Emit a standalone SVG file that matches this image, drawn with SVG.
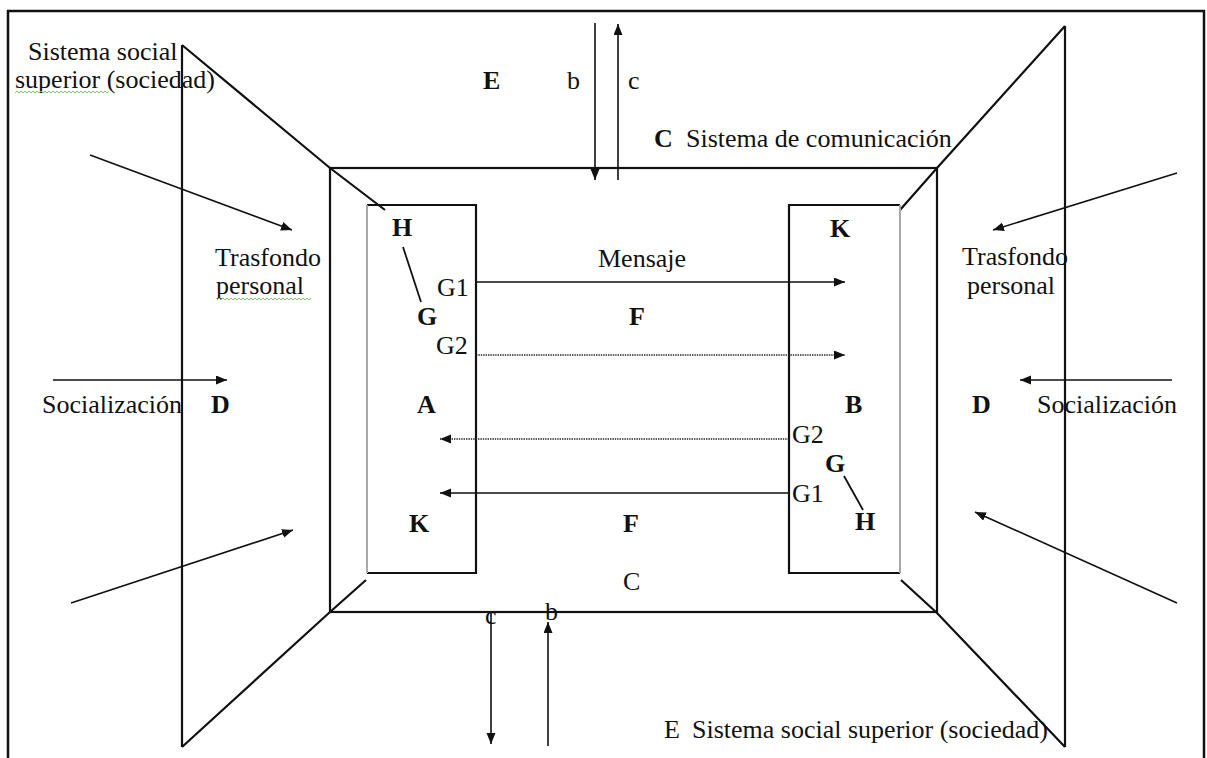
<svg xmlns="http://www.w3.org/2000/svg" width="1207" height="758" viewBox="0 0 1207 758">
  <style>
    .frame { fill: none; stroke: #111; stroke-width: 2.5; }
    .edge { fill: none; stroke: #111; stroke-width: 2.2; stroke-linejoin: miter; }
    .soft { fill: none; stroke: #a8a8a8; stroke-width: 2; }
    .arrow { fill: none; stroke: #111; stroke-width: 1.6; marker-end: url(#head); }
    .dotted { fill: none; stroke: #222; stroke-width: 1.6; stroke-dasharray: 1.4 1; marker-end: url(#head); }
    .tick { fill: none; stroke: #111; stroke-width: 1.8; }
    .squiggle { fill: none; stroke: #7cc46a; stroke-width: 1; }
    text { font-family: "Liberation Serif", "Times New Roman", serif; font-size: 26px; fill: #111; }
    .b { font-weight: bold; }
  </style>
  <defs>
    <marker id="head" markerUnits="userSpaceOnUse" markerWidth="12" markerHeight="10" refX="11" refY="4.5" orient="auto">
      <path d="M0,0 L11,4.5 L0,9 z" fill="#111"/>
    </marker>
  </defs>

  <rect width="1207" height="758" fill="#ffffff"/>

  <!-- superior social system: outer frame -->
  <g id="sociedad">
    <path class="frame" d="M8,762 L8,11 L1204,11 L1204,762"/>
    <text x="28" y="60">Sistema social</text>
    <text x="15" y="88">superior (sociedad)</text>
    <path class="squiggle" d="M15,93 l2,-2 l2,2 l2,-2 l2,2 l2,-2 l2,2 l2,-2 l2,2 l2,-2 l2,2 l2,-2 l2,2 l2,-2 l2,2 l2,-2 l2,2 l2,-2 l2,2 l2,-2 l2,2 l2,-2 l2,2 l2,-2 l2,2 l2,-2 l2,2 l2,-2 l2,2 l2,-2 l2,2 l2,-2 l2,2 l2,-2 l2,2 l2,-2 l2,2 l2,-2 l2,2 l2,-2 l2,2 l2,-2 l2,2 l2,-2 l2,2 l2,-2 l2,2 l2,-2"/>
    <text class="b" x="483" y="89">E</text>
    <text x="664" y="738">E<tspan x="692">Sistema social superior (sociedad)</tspan></text>
  </g>

  <!-- left personal background panel -->
  <g id="panel-izquierdo">
    <path class="edge" d="M182,45 L182,747"/>
    <path class="edge" d="M182,45 L330,168 L385,210"/>
    <path class="edge" d="M182,747 L330,612 L366,580"/>
    <text x="215" y="266">Trasfondo</text>
    <text x="216" y="294">personal</text>
    <path class="squiggle" d="M217,300 l2,-2 l2,2 l2,-2 l2,2 l2,-2 l2,2 l2,-2 l2,2 l2,-2 l2,2 l2,-2 l2,2 l2,-2 l2,2 l2,-2 l2,2 l2,-2 l2,2 l2,-2 l2,2 l2,-2 l2,2 l2,-2 l2,2 l2,-2 l2,2 l2,-2 l2,2 l2,-2 l2,2 l2,-2 l2,2 l2,-2 l2,2 l2,-2 l2,2 l2,-2 l2,2 l2,-2 l2,2 l2,-2 l2,2 l2,-2 l2,2 l2,-2 l2,2 l2,-2"/>
    <text x="42" y="413">Socialización</text>
    <text class="b" x="211" y="413">D</text>
  </g>

  <!-- right personal background panel -->
  <g id="panel-derecho">
    <path class="edge" d="M1065,26 L1065,747"/>
    <path class="edge" d="M1065,26 L937,168 L900,210"/>
    <path class="edge" d="M901,580 L937,613 L1065,747"/>
    <text x="962" y="265">Trasfondo</text>
    <text x="967" y="294">personal</text>
    <text class="b" x="972" y="413">D</text>
    <text x="1037" y="413">Socialización</text>
  </g>

  <!-- communication system -->
  <g id="sistema-comunicacion">
    <rect class="edge" x="330" y="168" width="607" height="444"/>
    <text x="654" y="147"><tspan class="b">C</tspan><tspan x="686">Sistema de comunicación</tspan></text>
    <text x="598" y="267">Mensaje</text>
    <text class="b" x="629" y="325">F</text>
    <text class="b" x="623" y="532">F</text>
    <text x="623" y="590">C</text>
  </g>

  <!-- communicator A -->
  <g id="comunicador-a">
    <path class="edge" d="M367,205 L476,205 L476,573 L367,573"/>
    <path class="soft" d="M367,205 L367,573"/>
    <text class="b" x="392" y="236">H</text>
    <path class="tick" d="M403,247 L421,302"/>
    <text x="437" y="296">G1</text>
    <text class="b" x="417" y="325">G</text>
    <text x="436" y="354">G2</text>
    <text class="b" x="417" y="413">A</text>
    <text class="b" x="409" y="532">K</text>
  </g>

  <!-- communicator B -->
  <g id="comunicador-b">
    <path class="edge" d="M900,205 L789,205 L789,573 L900,573"/>
    <path class="soft" d="M900,205 L900,573"/>
    <text class="b" x="830" y="237">K</text>
    <text class="b" x="845" y="413">B</text>
    <text x="792" y="443">G2</text>
    <text class="b" x="825" y="472">G</text>
    <path class="tick" d="M844,476 L863,510"/>
    <text x="792" y="502">G1</text>
    <text class="b" x="855" y="530">H</text>
  </g>

  <!-- connectors -->
  <g id="conectores">
    <!-- exchange with society, top -->
    <path class="arrow" d="M595,23 L595,180"/>
    <path class="arrow" d="M618,180 L618,24"/>
    <text x="567" y="89">b</text>
    <text x="628" y="89">c</text>
    <!-- exchange with society, bottom -->
    <path class="arrow" d="M491,612 L491,744"/>
    <path class="arrow" d="M548,746 L548,622"/>
    <text x="485" y="624">c</text>
    <text x="545" y="620">b</text>
    <!-- messages A to B -->
    <path class="arrow" d="M476,282 L845,282"/>
    <path class="dotted" d="M476,355 L845,355"/>
    <!-- messages B to A -->
    <path class="dotted" d="M789,439 L440,439"/>
    <path class="arrow" d="M789,493 L440,493"/>
    <!-- influences on personal background -->
    <path class="arrow" d="M90,155 L292,230"/>
    <path class="arrow" d="M53,380 L227,380"/>
    <path class="arrow" d="M71,603 L293,530"/>
    <path class="arrow" d="M1177,173 L993,230"/>
    <path class="arrow" d="M1172,380 L1020,380"/>
    <path class="arrow" d="M1177,603 L975,512"/>
  </g>
</svg>
